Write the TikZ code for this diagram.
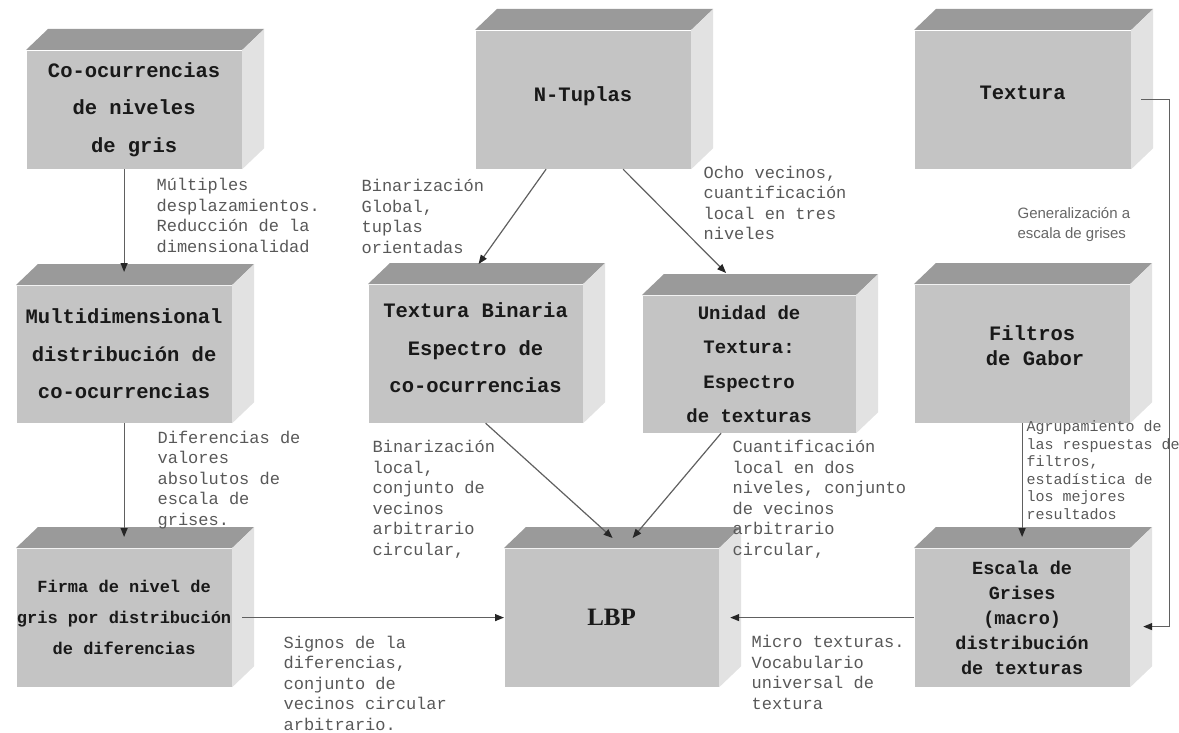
\documentclass[tikz,border=0pt]{standalone}
\usepackage{fontspec}
\setmainfont{Liberation Serif}
\setsansfont{Liberation Sans}
\setmonofont{Liberation Mono}
\usetikzlibrary{arrows.meta,calc}

\definecolor{facefront}{HTML}{C4C4C4}
\definecolor{facetop}{HTML}{9A9A9A}
\definecolor{faceside}{HTML}{E2E2E2}
\definecolor{notegray}{HTML}{585858}
\definecolor{linkgray}{HTML}{606060}

\tikzset{every picture/.style={line width=1.2pt},
  cube/.style={fill=facefront, anchor=north west, inner sep=0pt, align=center, text=black!90,
    font=\ttfamily\bfseries\fontsize{20.5}{37.5}\selectfont,
    append after command={\pgfextra{
      \fill[facetop] (\tikzlastnode.north west) -- ++(22,-21) -- ($(\tikzlastnode.north east)+(22,-21)$) -- (\tikzlastnode.north east) -- cycle;
      \fill[faceside] (\tikzlastnode.north east) -- ++(22,-21) -- ($(\tikzlastnode.south east)+(22,-21)$) -- (\tikzlastnode.south east) -- cycle;
    }}},
  % notes sit on the baseline of their last line
  note/.style={anchor=base west, align=left, inner sep=0pt, text=notegray,
    font=\ttfamily\fontsize{17}{20.5}\selectfont},
  link/.style={draw=linkgray, line width=1.2pt, -{Triangle[length=9pt,width=7pt,color=black!85]}}
}

\begin{document}
\begin{tikzpicture}[x=1pt,y=1pt,yscale=-1,xscale=1]
\useasboundingbox (0,0) rectangle (1179,733);

%Shape: Cube
\draw (26,50) node [cube, minimum width=215, minimum height=118] (coocur) {Co-ocurrencias\\de niveles\\de gris};
%Shape: Cube
\draw (475,30) node [cube, minimum width=215, minimum height=138, text depth=12pt] (ntuplas) {N-Tuplas};
%Shape: Cube
\draw (914,30) node [cube, minimum width=216, minimum height=138, text depth=14pt] (textura) {Textura};
%Shape: Cube
\draw (16,285) node [cube, minimum width=215, minimum height=137] (multi) {Multidimensional\\distribución de\\co-ocurrencias};
%Shape: Cube
\draw (368,284) node [cube, minimum width=214, minimum height=138, text depth=12pt] (binaria) {Textura Binaria\\Espectro de\\co-ocurrencias};
%Shape: Cube
\draw (642,295) node [cube, minimum width=213, minimum height=137, font=\ttfamily\bfseries\fontsize{19}{34.3}\selectfont] (unidad) {Unidad de\\Textura:\\Espectro\\de texturas};
%Shape: Cube
\draw (914,284) node [cube, minimum width=215, minimum height=138, text depth=16pt, font=\ttfamily\bfseries\fontsize{20.5}{25}\selectfont] (gabor) {\hspace*{20pt}Filtros\\\hspace*{26pt}de Gabor};
%Shape: Cube
\draw (16,548) node [cube, minimum width=215, minimum height=138, font=\ttfamily\bfseries\fontsize{17}{31}\selectfont] (firma) {Firma de nivel de\\gris por distribución\\de diferencias};
%Shape: Cube
\draw (504,548) node [cube, minimum width=214, minimum height=138, font=\rmfamily\bfseries\fontsize{25}{30}\selectfont] (lbp) {LBP};
%Shape: Cube
\draw (914,548) node [cube, minimum width=215, minimum height=138, font=\ttfamily\bfseries\fontsize{18.5}{25}\selectfont] (escala) {Escala de\\Grises\\(macro)\\distribución\\de texturas};

%Straight Lines
\draw [link] (coocur.south -| multi.north) -- ($(multi.north)+(0,-13)$);
\draw [link] (multi.south) -- ($(firma.north)+(0,-11)$);
\draw [link] ($(firma.east)+(10,0)$) -- (lbp.west);
\draw [link] (escala.west) -- ($(lbp.east)+(11,0)$);
\draw [link] ($(ntuplas.south)+(-37,0)$) -- ($(binaria.north)+(3,-20)$);
\draw [link] ($(ntuplas.south)+(40,0)$) -- ($(unidad.north)+(-23,-22)$);
\draw [link] ($(binaria.south)+(10,0)$) -- ($(lbp.north)+(1,-10)$);
\draw [link] ($(unidad.south)+(-28,0)$) -- ($(lbp.north)+(21,-10)$);
\draw [link] (gabor.south) -- ($(escala.north)+(0,-11)$);
%Connector
\draw [link] ($(textura.east)+(10,0)$) -- ++(28,0) |- ($(escala.east)+(13,9)$);

% Text Node
\draw (156,252) node [note] (notemult) {Múltiples\\desplazamientos.\\Reducción de la\\dimensionalidad};
% Text Node
\draw (361,253) node [note] (noteglobal) {Binarización\\Global,\\tuplas\\orientadas};
% Text Node
\draw (703,240) node [note] (noteocho) {Ocho vecinos,\\cuantificación\\local en tres\\niveles};
% Text Node
\draw (1017,238) node [note, font=\sffamily\fontsize{15}{20}\selectfont, text=black!60] (notegen) {Generalización a\\escala de grises};
% Text Node
\draw (157,525) node [note] (notedif) {Diferencias de\\valores\\absolutos de\\escala de\\grises.};
% Text Node
\draw (372,555) node [note] (notelocal) {Binarización\\local,\\conjunto de\\vecinos\\arbitrario\\circular,};
% Text Node
\draw (732,555) node [note] (notedos) {Cuantificación\\local en dos\\niveles, conjunto\\de vecinos\\arbitrario\\circular,};
% Text Node
\draw (1026,519) node [note, font=\ttfamily\fontsize{15}{17.5}\selectfont] (noteagrup) {Agrupamiento de\\las respuestas de\\filtros,\\estadística de\\los mejores\\resultados};
% Text Node
\draw (283,730) node [note] (notesignos) {Signos de la\\diferencias,\\conjunto de\\vecinos circular\\arbitrario.};
% Text Node
\draw (751,709) node [note] (notemicro) {Micro texturas.\\Vocabulario\\universal de\\textura};

\end{tikzpicture}
\end{document}
